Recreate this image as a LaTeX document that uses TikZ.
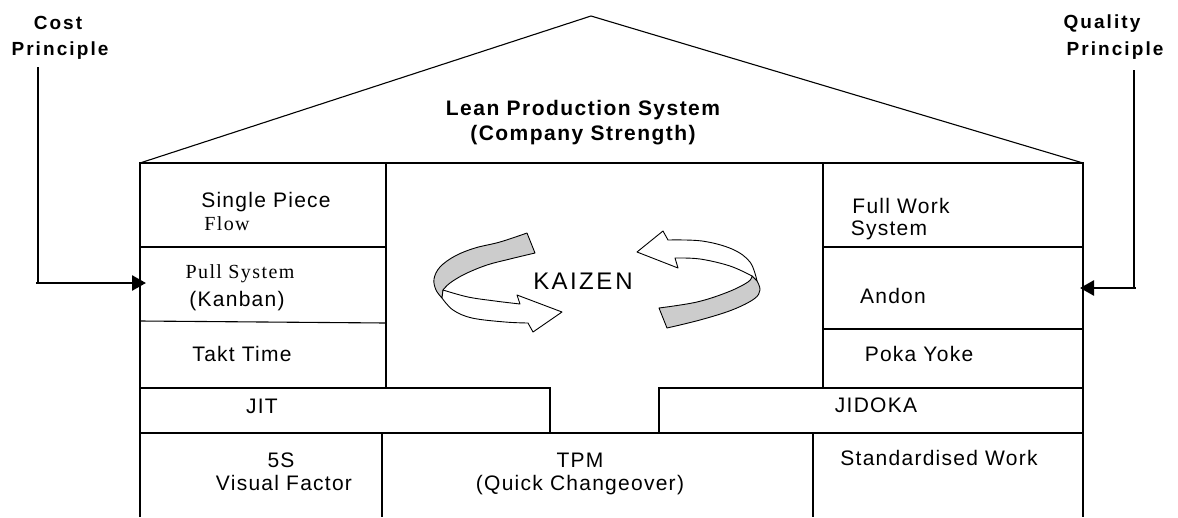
\documentclass[tikz,border=0pt]{standalone}
\usepackage{fontspec}
\setmainfont{Liberation Sans}
\newfontfamily\regfont[LetterSpace=6]{Liberation Sans}
\newfontfamily\kaifont[LetterSpace=10]{Liberation Sans}
\newfontfamily\serfont[LetterSpace=7]{Liberation Serif}
\newfontfamily\princfont[LetterSpace=11]{Liberation Sans}
\newfontfamily\titlefont[LetterSpace=7]{Liberation Sans}
\usetikzlibrary{arrows.meta}
\begin{document}
\begin{tikzpicture}[x=1pt,y=-1pt,
  wall/.style={line width=1.1pt},
  lbl/.style={inner sep=0pt, anchor=base, font=\regfont\fontsize{21}{23}\selectfont},
  serlbl/.style={inner sep=0pt, anchor=base, font=\serfont\fontsize{20}{22}\selectfont},
  princ/.style={inner sep=0pt, anchor=base, font=\princfont\bfseries\fontsize{19}{21}\selectfont},
  titlelbl/.style={inner sep=0pt, anchor=base, font=\titlefont\bfseries\fontsize{21}{23}\selectfont},
  kaizenlbl/.style={inner sep=0pt, anchor=base, font=\kaifont\fontsize{24}{26}\selectfont},
  feedline/.style={line width=1.1pt},
  feedin/.style={line width=2.6pt, -{Triangle[length=14pt,width=15pt]}},
  band/.style={line width=0.9pt, line join=round},
  greyband/.style={band, fill=gray!40},
  whiteband/.style={band, fill=white},
]
\useasboundingbox (0,0) rectangle (1178,517);

% roof
\draw[wall] (140,163) -- (591,16) -- (1083,163);
% outer walls and top beam
\draw[wall] (140,517) -- (140,163) -- (1083,163) -- (1083,517);
% left column
\draw[wall] (386,163) -- (386,388);
\draw[wall] (140,247) -- (386,247);
\draw[wall] (140,321) -- (386,323);
% JIT beam
\draw[wall] (140,388) -- (550,388) -- (550,433);
% JIDOKA beam
\draw[wall] (1083,388) -- (659,388) -- (659,433);
% floor of beams
\draw[wall] (140,433) -- (1083,433);
% right column
\draw[wall] (823,163) -- (823,388);
\draw[wall] (823,247) -- (1083,247);
\draw[wall] (823,329) -- (1083,329);
% foundation dividers
\draw[wall] (382,433) -- (382,517);
\draw[wall] (813,433) -- (813,517);

% labels outside
\node[princ] (cost) at (58,29) {Cost};
\node[princ] (costp) at (60,55) {Principle};
\node[princ] (qual) at (1102,28) {Quality};
\node[princ] (qualp) at (1115,55) {Principle};

% title
\node[titlelbl] (lps) at (583,115) {Lean Production System};
\node[titlelbl] (cs) at (583,140) {(Company Strength)};

% left column
\node[lbl] (spf) at (266,207) {Single Piece};
\node[serlbl] (flow) at (227,230) {Flow};
\node[serlbl] (pull) at (240,278) {Pull System};
\node[lbl] (kanban) at (237,306) {(Kanban)};
\node[lbl] (takt) at (242,361) {Takt Time};
\node[lbl] (jit) at (262,413) {JIT};

% right column
\node[lbl] (fws) at (901,213) {Full Work};
\node[lbl] (fws2) at (889,235) {System};
\node[lbl] (andon) at (893,303) {Andon};
\node[lbl] (poka) at (919,361) {Poka Yoke};
\node[lbl] (jidoka) at (876,412) {JIDOKA};

% foundation
\node[lbl] (fives) at (281,467) {5S};
\node[lbl] (visual) at (284,490) {Visual Factor};
\node[lbl] (tpm) at (580,467) {TPM};
\node[lbl] (qc) at (580,490) {(Quick Changeover)};
\node[lbl] (std) at (939,465) {Standardised Work};

% KAIZEN
\node[kaizenlbl] (kaizen) at (583,289) {KAIZE\kern3pt N};

% left circular arrow
\draw[greyband] (527,233) -- (535,253)
  -- plot[smooth, tension=0.6] coordinates {(535,253) (510,259) (487,265) (465,274) (450,283) (443,290)}
  -- (442,298)
  -- plot[smooth, tension=0.6] coordinates {(442,298) (436,290) (434,279) (440,267) (455,256) (475,248) (500,242) (527,233)}
  -- cycle;
\draw[whiteband] (443,290)
  -- plot[smooth, tension=0.6] coordinates {(443,290) (468,297) (495,301) (520,304)}
  -- (517,295) -- (562,312) -- (533,332) -- (528,323)
  -- plot[smooth, tension=0.6] coordinates {(528,323) (505,322) (472,318) (453,310) (442,298)}
  -- cycle;

% right circular arrow
\draw[whiteband] (637,252) -- (663,231) -- (668,240)
  -- plot[smooth, tension=0.6] coordinates {(668,240) (702,241) (732,249) (750,262) (757,281)}
  -- (752,276)
  -- plot[smooth, tension=0.6] coordinates {(752,276) (730,266) (700,259) (675,258)}
  -- (678,268) -- cycle;
\draw[greyband] (752,276) -- (757,281)
  -- plot[smooth, tension=0.6] coordinates {(757,281) (760,290) (754,299) (732,310) (700,320) (667,328)}
  -- (659,308)
  -- plot[smooth, tension=0.6] coordinates {(659,308) (697,302) (728,292) (748,282) (752,276)}
  -- cycle;

% feed arrows
\coordinate (costtop) at (38,67);
\coordinate (costbend) at (38,283);
\coordinate (coststart) at (36,283);
\coordinate (costin) at (146,283);
\draw[feedline] (costtop) -- (costbend);
\draw[feedin] (coststart) -- (costin);

\coordinate (qualtop) at (1134,70);
\coordinate (qualbend) at (1134,288);
\coordinate (qualstart) at (1135.5,288);
\coordinate (qualin) at (1080,288);
\draw[feedline] (qualtop) -- (qualbend);
\draw[feedin] (qualstart) -- (qualin);
\end{tikzpicture}
\end{document}
